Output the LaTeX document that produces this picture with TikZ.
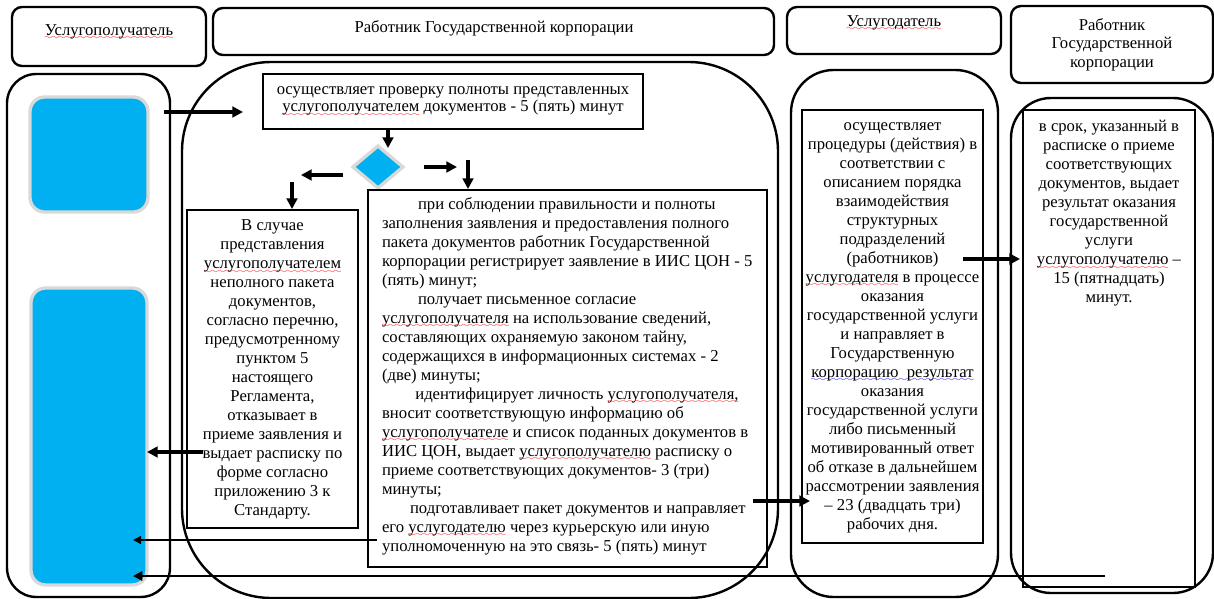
\documentclass[tikz,border=0pt]{standalone}
\usepackage{fontspec}
\setmainfont{Liberation Serif}
\usetikzlibrary{arrows.meta,shapes.geometric,fit,calc}
\definecolor{cyanblue}{HTML}{00B0F0}
\font\wavefont=lasy6
\newcommand\wavyline[2]{\leavevmode\setbox0\hbox{#2}\rlap{\lower3.4pt\hbox to \wd0{\color{#1}\xleaders\hbox{\wavefont\char58}\hfil}}\box0\relax}
\newcommand\rw[1]{\wavyline{red}{#1}}
\newcommand\bw[1]{\wavyline{blue}{#1}}
\tikzset{
 every node/.style={outer sep=0pt},
 hdr/.style={draw, line width=1.8pt, rounded corners=7.5pt, inner sep=0pt},
 col/.style={draw, line width=1.8pt, inner sep=0pt},
 txtbox/.style={draw, line width=2.2pt, inner sep=0pt},
 bluebox/.style={fill=cyanblue, draw=black!15, line width=2.5pt, rounded corners=11pt, inner sep=0pt},
 lbl/.style={inner sep=0pt, font=\fontsize{12.5}{14.25}\selectfont},
 tarr/.style={line width=3pt, -{Triangle[length=8pt,width=8pt]}},
 thinarr/.style={line width=1.1pt, -{Triangle[length=6pt,width=6pt]}},
 medarr/.style={line width=1.8pt, -{Triangle[length=7pt,width=7pt]}},
}
\begin{document}
\begin{tikzpicture}[x=0.75pt,y=-0.75pt]
\useasboundingbox (0,0) rectangle (1214,599);
% headers
\node[hdr, fit={(12,7) (206,66)}] (h1) {};
\node[lbl] (h1t) at (109,32) {\rw{Услугополучатель}};
\node[hdr, fit={(213,8) (774,55)}] (h2) {};
\node[lbl] (h2t) at (494,28) {Работник Государственной корпорации};
\node[hdr, fit={(787,7) (1001,54)}] (h3) {};
\node[lbl] (h3t) at (894,23) {\rw{Услугодатель}};
\node[hdr, fit={(1011,6) (1213,83)}] (h4) {};
\node[lbl, align=center, font=\fontsize{12.5}{13.9}\selectfont] (h4t) at (1112,44.5) {Работник\\Государственной\\корпорации};
% columns
\node[col, rounded corners=22pt, fit={(7,74) (170,597)}] (c1) {};
\node[col, rounded corners=67pt, fit={(182,62) (778,598)}] (c2) {};
\node[col, rounded corners=32pt, fit={(791,70) (998,597)}] (c3) {};
\node[col, rounded corners=30pt, fit={(1011,98) (1213,593)}] (c4) {};
% blue shapes
\node[bluebox, fit={(30,97) (148,212)}] (blue1) {};
\node[bluebox, fit={(31,288) (147,585)}] (blue2) {};
\node[diamond, fill=cyanblue, draw=black!15, line width=2.5pt, minimum width=37.5pt, minimum height=31.5pt, inner sep=0pt] (d) at (378,167) {};
% text boxes
\node[txtbox, fit={(263,74) (643,129)}] (B1) {};
\node[lbl, align=center, font=\fontsize{12.5}{13}\selectfont] (b1t) at (453,101.5) {осуществляет проверку полноты представленных\\ \rw{услугополучателем} документов - 5 (пять) минут};
\node[txtbox, fit={(187,210) (358,528)}] (B2) {};
\node[lbl, align=center] (b2t) at (272.5,369.5) {В случае\\ представления\\ \rw{услугополучателем}\\ неполного пакета\\ документов,\\ согласно перечню,\\ предусмотренному\\ пунктом 5\\ настоящего\\ Регламента,\\ отказывает в\\ приеме заявления и\\ выдает расписку по\\ форме согласно\\ приложению 3 к\\ Стандарту.};
\node[txtbox, fit={(368,190) (767,567)}] (B3) {};
\node[lbl, align=left, anchor=west] (b3t) at (382,376) {\hspace*{27pt}при соблюдении правильности и полноты\\ заполнения заявления и предоставления полного\\ пакета документов работник Государственной\\ корпорации регистрирует заявление в ИИС ЦОН - 5\\ (пять) минут;\\ \hspace*{27pt}получает письменное согласие\\ \rw{услугополучателя} на использование сведений,\\ составляющих охраняемую законом тайну,\\ содержащихся в информационных системах - 2\\ (две) минуты;\\ \hspace*{25pt}идентифицирует личность \rw{услугополучателя,}\\ вносит соответствующую информацию об\\ \rw{услугополучателе} и список поданных документов в\\ ИИС ЦОН, выдает \rw{услугополучателю} расписку о\\ приеме соответствующих документов- 3 (три)\\ минуты;\\ \hspace*{21pt}подготавливает пакет документов и направляет\\ его \rw{услугодателю} через курьерскую или иную\\ уполномоченную на это связь- 5 (пять) минут};
\node[txtbox, fit={(802,110) (983,543)}] (B4) {};
\node[lbl, align=center] (b4t) at (892.5,327.5) {осуществляет\\ процедуры (действия) в\\ соответствии с\\ описанием порядка\\ взаимодействия\\ структурных\\ подразделений\\ (работников)\\ \rw{услугодателя} в процессе\\ оказания\\ государственной услуги\\ и направляет в\\ Государственную\\ \bw{корпорацию\ \ результат}\\ оказания\\ государственной услуги\\ либо письменный\\ мотивированный ответ\\ об отказе в дальнейшем\\ рассмотрении заявления\\ – 23 (двадцать три)\\ рабочих дня.};
\node[txtbox, fit={(1023,110) (1195,587)}] (B5) {};
\node[lbl, align=center] (b5t) at (1109,213.5) {в срок, указанный в\\ расписке о приеме\\ соответствующих\\ документов, выдает\\ результат оказания\\ государственной\\ услуги\\ \rw{услугополучателю} –\\ 15 (пятнадцать)\\ минут.};
% arrows
\draw[tarr] ($(blue1.north east)+(16,15)$) -- ($(B1.west)+(-20,10.5)$);
\draw[tarr] ($(B1.south)+(-65,0)$) -- ($(d.north)+(10,2)$);
\draw[tarr] ($(d.east)+(21,0)$) -- ++(33,0);
\draw[tarr] ($(B3.north west)+(100,-30)$) -- ($(B3.north west)+(100,-1)$);
\draw[tarr] ($(d.west)+(-10,8)$) -- ++(-42,0);
\draw[tarr] ($(B2.north)+(19.5,-28)$) -- ($(B2.north)+(19.5,-1)$);
\draw[tarr] ($(B2.west)+(16,83)$) -- ($(blue2.east)+(0,15.5)$);
\draw[thinarr] ($(B3.west)+(9,161.5)$) -- ($(blue2.east)+(-14,103.5)$);
\draw[tarr] ($(B3.east)+(-14,122.5)$) -- ($(B4.west)+(8,174.5)$);
\draw[tarr] ($(B4.east)+(-20,-67.5)$) -- ($(B5.west)+(-3,-89.5)$);
\draw[medarr] ($(c4.south west)+(94,-17)$) -- ($(blue2.south east)+(-14,-9)$);
\end{tikzpicture}
\end{document}
